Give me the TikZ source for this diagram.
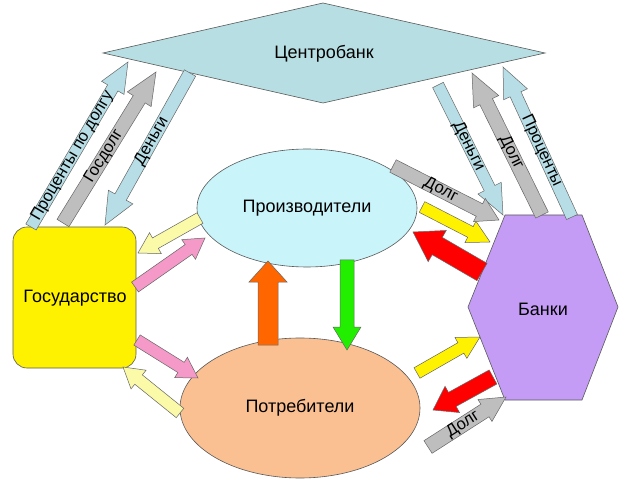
\documentclass[tikz,border=0pt]{standalone}
\usepackage{fontspec}
\setmainfont{Liberation Sans}
\usetikzlibrary{calc,shapes.geometric}
\definecolor{cbteal}{HTML}{B7DFE3}
\definecolor{arteal}{HTML}{B7DEE6}
\definecolor{argray}{HTML}{BEBEBE}
\definecolor{pyellow}{HTML}{FAFAA8}
\definecolor{ppink}{HTML}{F59AC8}
\definecolor{prodcol}{HTML}{C9F4FA}
\definecolor{potrcol}{HTML}{FAC092}
\definecolor{bankcol}{HTML}{C49CF6}
\definecolor{orangecol}{HTML}{FF6600}
\definecolor{greencol}{HTML}{22EE00}
\tikzset{
  shp/.style={draw=black!65, line width=0.6pt},
  arr/.style={draw=black!60, line width=0.5pt, line join=miter},
  lbl/.style={font=\fontsize{16.5}{16.5}\selectfont, inner sep=0pt},
  biglbl/.style={font=\fontsize{18}{18}\selectfont, inner sep=0pt},
}
% #1 style, #2 from, #3 to, #4 shaft half width, #5 head half width, #6 head length, #7 text, #8 text position
\newcommand\barrow[8]{%
  \coordinate (H) at ($(#3)!#6pt!(#2)$);
  \draw[#1] ($(#2)!#4pt!90:(#3)$) -- ($(H)!#4pt!-90:(#2)$) -- ($(H)!#5pt!-90:(#2)$) -- (#3)
     -- ($(H)!#5pt!90:(#2)$) -- ($(H)!#4pt!90:(#2)$) -- ($(#2)!#4pt!-90:(#3)$) -- cycle;
  \path let \p1=($(#3)-(#2)$), \n1={mod(atan2(\y1,\x1)+450,180)-90} in
     node[lbl, rotate=\n1] at ($(#2)!#8!(#3)$) {#7};
}
\begin{document}
\begin{tikzpicture}[x=1pt,y=-1pt]
\useasboundingbox (0,0) rectangle (624,489);
\fill[white] (0,0) rectangle (624,489);
% Centrobank
\draw[shp, fill=cbteal] (103,53) -- (323,3) -- (545,53) -- (323,103) -- cycle;
\node[biglbl] (cb) at (324,54) {Центробанк};
% Gosudarstvo
\draw[shp, fill=yellow, rounded corners=14pt] (13,227) rectangle (136,368);
\node[biglbl] (gos) at (75,298) {Государство};
% Proizvoditeli
\node[shp, ellipse, fill=prodcol, minimum width=220pt, minimum height=118pt, biglbl] (prod) at (307,208) {Производители};
% Potrebiteli
\node[shp, ellipse, fill=potrcol, minimum width=240pt, minimum height=140pt, biglbl] (potr) at (300,408) {Потребители};
% Banki
\draw[shp, fill=bankcol] (505,215) -- (582,215) -- (618,307) -- (582,400) -- (505,400) -- (468,307) -- cycle;
\node[biglbl] (bank) at (543,309) {Банки};
% endpoints
\coordinate (a1) at (31,227);  \coordinate (b1) at (128,62);
\coordinate (a2) at (63,223);  \coordinate (b2) at (156,72);
\coordinate (a3) at (190,73);  \coordinate (b3) at (105,225);
\coordinate (a4) at (438,85);  \coordinate (b4) at (503,215);
\coordinate (a5) at (542,215); \coordinate (b5) at (472,73);
\coordinate (a6) at (572,217); \coordinate (b6) at (503,67);
\coordinate (a7) at (393,166); \coordinate (b7) at (499,220);
\coordinate (a8) at (422,207); \coordinate (b8) at (490,242);
\coordinate (a9) at (482,272); \coordinate (b9) at (413,232);
\coordinate (a10) at (417,373); \coordinate (b10) at (480,337);
\coordinate (a11) at (493,377); \coordinate (b11) at (433,410);
\coordinate (a12) at (428,447); \coordinate (b12) at (506,397);
\coordinate (a13) at (200,218); \coordinate (b13) at (138,253);
\coordinate (a14) at (135,287); \coordinate (b14) at (205,238);
\coordinate (a15) at (137,340); \coordinate (b15) at (198,378);
\coordinate (a16) at (180,413); \coordinate (b16) at (123,367);
\coordinate (a17) at (268,345); \coordinate (b17) at (268,261);
\coordinate (a18) at (347,260); \coordinate (b18) at (347,350);
% arrows
\barrow{arr, fill=arteal}{a1}{b1}{6}{13}{30}{Проценты по долгу}{0.43}
\barrow{arr, fill=argray}{a2}{b2}{7}{14}{32}{Госдолг}{0.44}
\barrow{arr, fill=arteal}{a3}{b3}{6.5}{14}{32}{Деньги}{0.45}
\barrow{arr, fill=arteal}{a4}{b4}{6}{13}{30}{Деньги}{0.47}
\barrow{arr, fill=argray}{a5}{b5}{7}{14}{32}{Долг}{0.44}
\barrow{arr, fill=arteal}{a6}{b6}{6}{13}{30}{Проценты}{0.44}
\barrow{arr, fill=argray}{a7}{b7}{7}{13}{22}{Долг}{0.45}
\barrow{arr, fill=yellow}{a8}{b8}{6}{12}{22}{}{0.5}
\barrow{arr, fill=red}{a9}{b9}{10}{18}{28}{}{0.5}
\barrow{arr, fill=yellow}{a10}{b10}{6}{12}{22}{}{0.5}
\barrow{arr, fill=red}{a11}{b11}{8}{15}{22}{}{0.5}
\barrow{arr, fill=argray}{a12}{b12}{7.5}{13}{25}{Долг}{0.45}
\barrow{arr, fill=pyellow}{a13}{b13}{6}{12}{20}{}{0.5}
\barrow{arr, fill=ppink}{a14}{b14}{6}{12}{20}{}{0.5}
\barrow{arr, fill=ppink}{a15}{b15}{6}{12}{20}{}{0.5}
\barrow{arr, fill=pyellow}{a16}{b16}{6}{12}{20}{}{0.5}
\barrow{arr, fill=orangecol}{a17}{b17}{10}{19}{21}{}{0.5}
\barrow{arr, fill=greencol}{a18}{b18}{7}{14}{23}{}{0.5}
\end{tikzpicture}
\end{document}
